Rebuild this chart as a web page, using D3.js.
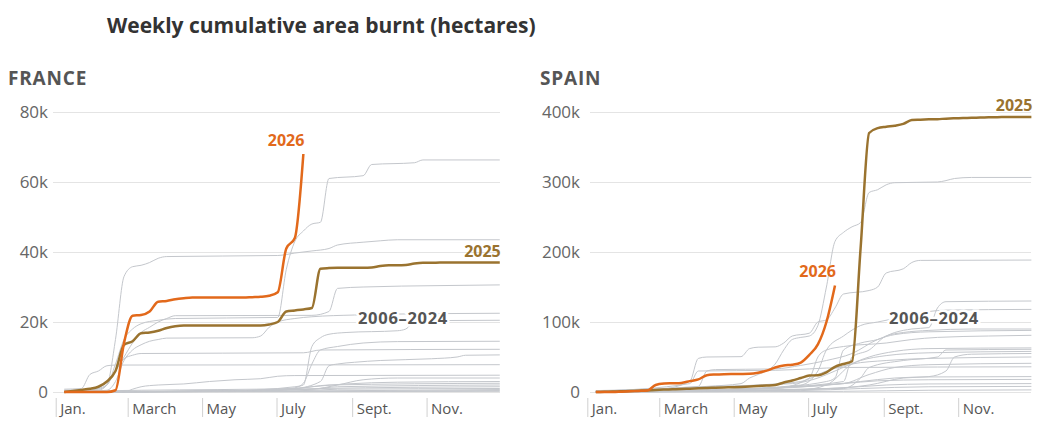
<!DOCTYPE html>
<html>
<head>
<meta charset="utf-8">
<script src="https://cdn.jsdelivr.net/npm/d3@7"></script>
<style>
	body { margin: 0; background: #fff; }
	svg { display: block; font-family: 'Open Sans', sans-serif; }
</style>
</head>
<body>
<div id="app"></div>
<script>
// month ticks shown under each panel
const monthLabels = ['Jan.', 'March', 'May', 'July', 'Sept.', 'Nov.']

const franceTicks = [0, 20000, 40000, 60000, 80000]
const spainTicks = [0, 100000, 200000, 300000, 400000]

// weekly cumulative hectares, week 1..n
const france2026 = [0, 0, 0, 0, 0, 0, 500, 14000, 21800, 22000, 23000, 25800, 26000, 26500, 26800, 27000, 27000, 27000, 27000, 27000, 27000, 27000, 27100, 27200, 27500, 28500, 41000, 44000, 68000]
const france2025 = [0, 300, 600, 900, 1500, 3000, 6000, 13500, 14500, 16800, 17000, 17500, 18300, 18800, 19000, 19000, 19000, 19000, 19000, 19000, 19000, 19000, 19000, 19000, 19300, 20000, 23000, 23300, 23600, 24000, 35200, 35400, 35500, 35500, 35500, 35500, 35600, 36000, 36200, 36200, 36300, 36700, 36900, 36900, 37000, 37000, 37000, 37000, 37000, 37000, 37000, 37000]
const spain2026 = [0, 0, 0, 500, 1000, 1500, 2000, 10000, 12000, 12500, 13000, 15500, 18000, 24000, 25000, 25500, 25700, 25800, 26000, 27500, 30500, 35000, 38000, 39000, 42000, 53000, 68000, 100000, 152000]
const spain2025 = [0, 300, 600, 1000, 1300, 1800, 2300, 3000, 3500, 3800, 4200, 4800, 5300, 5800, 6200, 6600, 6800, 7200, 7800, 8500, 9200, 10000, 13500, 16500, 20000, 23500, 24000, 28000, 36000, 40000, 44000, 205000, 370000, 377000, 379000, 380500, 383000, 388500, 389000, 389500, 389800, 390500, 391000, 391300, 391800, 392000, 392400, 392600, 392800, 393000, 393000, 393000]

// 2006-2024, [week, hectares]
const francePast = [
	[[1, 0], [4, 500], [6, 2000], [7, 8000], [8, 15000], [9, 18000], [10, 19500], [12, 20500], [14, 21000], [26, 21300], [27, 35000], [28, 43000], [29, 46000], [30, 48000], [31, 48500], [32, 61000], [36, 61800], [37, 65000], [42, 65500], [43, 66300], [52, 66300]],
	[[1, 0], [5, 500], [6, 2000], [7, 15000], [8, 33000], [9, 35800], [10, 36200], [11, 37000], [12, 38200], [13, 38700], [26, 39000], [28, 39700], [30, 40300], [32, 41000], [33, 42000], [36, 42800], [38, 43200], [40, 43500], [52, 43500]],
	[[1, 300], [5, 1200], [6, 3000], [7, 6000], [8, 10000], [9, 14000], [10, 17000], [11, 18500], [12, 20000], [13, 21000], [14, 21800], [30, 21900], [32, 23000], [33, 29600], [36, 30000], [45, 30400], [52, 30600]],
	[[1, 0], [6, 500], [7, 3000], [8, 9000], [9, 12000], [10, 13500], [11, 14500], [12, 15000], [13, 15400], [23, 15500], [24, 16000], [25, 18500], [26, 20000], [28, 21000], [30, 21500], [35, 22000], [45, 22400], [52, 22500]],
	[[1, 0], [20, 300], [28, 1500], [29, 2000], [30, 13000], [31, 15500], [32, 16500], [34, 17000], [40, 17500], [41, 18000], [42, 20000], [44, 20400], [52, 20500]],
	[[1, 0], [24, 500], [28, 1200], [29, 2500], [30, 8000], [31, 12000], [33, 13000], [36, 14000], [40, 14400], [52, 14500]],
	[[1, 500], [5, 800], [6, 2000], [7, 6000], [8, 9500], [9, 10500], [10, 11000], [29, 11200], [31, 12000], [52, 12200]],
	[[1, 0], [20, 300], [28, 1000], [31, 3000], [32, 7500], [33, 8000], [35, 8500], [38, 9000], [44, 9500], [47, 10000], [48, 10500], [52, 10600]],
	[[1, 800], [3, 1000], [4, 5000], [5, 6000], [6, 7500], [7, 7700], [52, 7800]],
	[[1, 0], [8, 0], [9, 800], [10, 1500], [12, 2000], [15, 2300], [18, 3000], [21, 3500], [24, 3800], [26, 4500], [28, 4700], [52, 4800]],
	[[1, 0], [20, 300], [30, 800], [33, 2000], [36, 3500], [40, 4000], [52, 4000]],
	[[1, 0], [26, 500], [30, 1500], [34, 2300], [40, 2800], [52, 3000]],
	[[1, 200], [10, 500], [28, 1000], [32, 2000], [52, 2500]],
	[[1, 0], [15, 300], [30, 800], [33, 1500], [52, 2000]],
	[[1, 0], [20, 200], [31, 1000], [52, 1500]],
	[[1, 0], [28, 300], [33, 800], [52, 1000]],
	[[1, 0], [30, 300], [52, 700]],
	[[1, 0], [30, 200], [52, 400]],
	[[1, 0], [52, 200]],
]

const spainPast = [
	[[1, 0], [8, 3000], [14, 8000], [18, 12000], [19, 20000], [20, 25000], [22, 40000], [23, 60000], [24, 75000], [25, 78000], [26, 80000], [27, 95000], [28, 150000], [29, 215000], [30, 228000], [31, 236000], [32, 242000], [33, 285000], [34, 289000], [35, 296000], [36, 299000], [41, 300000], [42, 302000], [43, 305000], [45, 306500], [52, 306500]],
	[[1, 0], [8, 3000], [12, 15000], [13, 48000], [14, 50000], [18, 50500], [19, 62000], [20, 64000], [22, 64500], [23, 70000], [24, 80000], [26, 84000], [27, 100000], [28, 103000], [29, 120000], [30, 140000], [33, 145000], [34, 150000], [35, 170000], [37, 176000], [38, 185000], [39, 188000], [52, 188500]],
	[[1, 0], [10, 2000], [20, 5000], [28, 15000], [29, 20000], [30, 60000], [32, 70000], [34, 75000], [36, 85000], [38, 90000], [40, 92000], [41, 120000], [42, 129000], [52, 130000]],
	[[1, 0], [15, 3000], [25, 10000], [27, 30000], [28, 60000], [30, 80000], [32, 95000], [34, 100000], [36, 105000], [40, 115000], [42, 117000], [52, 118000]],
	[[1, 0], [20, 5000], [30, 15000], [31, 50000], [33, 60000], [35, 80000], [37, 85000], [40, 88000], [45, 90000], [52, 90000]],
	[[1, 2000], [13, 8000], [14, 30000], [15, 32000], [22, 33000], [25, 38000], [28, 45000], [31, 55000], [34, 75000], [36, 82000], [40, 86000], [52, 88000]],
	[[1, 0], [22, 5000], [26, 20000], [27, 50000], [28, 60000], [30, 65000], [35, 70000], [38, 75000], [41, 78000], [47, 80000], [52, 81000]],
	[[1, 0], [25, 3000], [28, 10000], [31, 40000], [33, 50000], [36, 58000], [40, 62000], [52, 63000]],
	[[1, 0], [30, 5000], [32, 20000], [33, 35000], [37, 45000], [41, 50000], [42, 60000], [52, 61000]],
	[[1, 1000], [15, 8000], [24, 12000], [27, 20000], [29, 30000], [32, 45000], [35, 52000], [40, 56000], [52, 58000]],
	[[1, 0], [28, 5000], [33, 10000], [37, 20000], [40, 22000], [42, 30000], [43, 50000], [45, 54000], [52, 55000]],
	[[1, 0], [10, 4000], [20, 10000], [25, 15000], [28, 30000], [31, 40000], [35, 45000], [40, 48000], [52, 50000]],
	[[1, 0], [20, 5000], [30, 12000], [33, 25000], [36, 35000], [40, 39000], [52, 41000]],
	[[1, 1000], [12, 12000], [13, 30000], [22, 31000], [26, 33000], [30, 35000], [52, 36000]],
	[[1, 0], [20, 4000], [28, 10000], [32, 15000], [36, 20000], [40, 21500], [52, 22000]],
	[[1, 0], [15, 3000], [25, 8000], [30, 12000], [34, 16000], [40, 17500], [52, 18000]],
	[[1, 0], [20, 2000], [30, 6000], [35, 10000], [40, 11500], [52, 12000]],
	[[1, 0], [25, 2000], [32, 5000], [40, 7500], [52, 8000]],
	[[1, 0], [30, 1000], [40, 2500], [52, 3000]],
]

const width = 1041
const height = 425
const orange = '#e2691b'
const brown = '#9a732f'

const yearStart = new Date(2025, 0, 1)
const yearEnd = new Date(2026, 0, 1)
const weekDate = (w) => d3.timeDay.offset(yearStart, 7 * w)
const monthTicks = d3.timeMonth.every(2).range(yearStart, yearEnd)

const svg = d3
	.select('#app')
	.append('svg')
	.attr('width', width)
	.attr('height', height)

// chart title
svg
	.append('text')
	.attr('x', 107)
	.attr('y', 33)
	.attr('font-size', '21px')
	.attr('font-weight', 700)
	.attr('fill', '#333')
	.text('Weekly cumulative area burnt (hectares)')

function drawPanel(p) {
	const g = svg.append('g')

	const x = d3.scaleTime().domain([yearStart, yearEnd]).range([p.x0, p.x1])
	const y = d3.scaleLinear().domain([0, p.ticks[p.ticks.length - 1]]).range([392, 112])

	// country name
	g.append('text')
		.attr('x', p.nameX)
		.attr('y', 85)
		.attr('font-size', '19px')
		.attr('font-weight', 700)
		.attr('letter-spacing', '0.8px')
		.attr('fill', '#555')
		.text(p.name)

	// y axis with gridlines
	const yAxis = d3
		.axisLeft(y)
		.tickValues(p.ticks)
		.tickSize(-(p.gridRight - p.gridLeft))
		.tickPadding(p.pad)
		.tickFormat((d) => (d === 0 ? '0' : d / 1000 + 'k'))
	const ya = g.append('g').attr('transform', `translate(${p.gridLeft},0)`).call(yAxis)
	ya.select('.domain').remove()
	ya.selectAll('line').attr('stroke', '#e4e4e4')
	ya.selectAll('text')
		.attr('font-size', '17px')
		.attr('font-family', 'Open Sans, sans-serif')
		.attr('fill', '#666')

	// x axis, ticks hanging below the baseline
	const xAxis = d3
		.axisBottom(x)
		.tickValues(monthTicks)
		.tickSize(19)
		.tickFormat((d, i) => monthLabels[i])
	const xa = g.append('g').attr('transform', 'translate(0,398)').call(xAxis)
	xa.select('.domain').remove()
	xa.selectAll('line').attr('stroke', '#d0d0d0')
	xa.selectAll('text')
		.attr('x', 4)
		.attr('y', 16)
		.attr('dy', 0)
		.attr('text-anchor', 'start')
		.attr('font-size', '15px')
		.attr('font-family', 'Open Sans, sans-serif')
		.attr('fill', '#555')

	const line = d3
		.line()
		.x((d) => x(weekDate(d[0])))
		.y((d) => y(d[1]))
		.curve(d3.curveMonotoneX)

	const weekly = (arr) => arr.map((v, i) => [i + 1, v])

	g.append('g')
		.selectAll('path')
		.data(p.past)
		.join('path')
		.attr('d', line)
		.attr('fill', 'none')
		.attr('stroke', '#c4c7cc')
		.attr('stroke-width', 1)

	const last = weekly(p.last)
	const cur = weekly(p.current)

	g.append('path')
		.datum(last)
		.attr('d', line)
		.attr('fill', 'none')
		.attr('stroke', brown)
		.attr('stroke-width', 2.5)

	g.append('path')
		.datum(cur)
		.attr('d', line)
		.attr('fill', 'none')
		.attr('stroke', orange)
		.attr('stroke-width', 2.5)

	// labels
	const lastEnd = last[last.length - 1]
	const curEnd = cur[cur.length - 1]

	g.append('text')
		.attr('x', x(weekDate(lastEnd[0])) + 1)
		.attr('y', y(lastEnd[1]) - p.lastOff)
		.attr('dy', '0.35em')
		.attr('text-anchor', 'end')
		.attr('font-size', '16px')
		.attr('font-weight', 700)
		.attr('fill', brown)
		.text('2025')

	g.append('text')
		.attr('x', x(weekDate(curEnd[0])) + 1)
		.attr('y', y(curEnd[1]) - 14)
		.attr('dy', '0.35em')
		.attr('text-anchor', 'end')
		.attr('font-size', '16px')
		.attr('font-weight', 700)
		.attr('fill', orange)
		.text('2026')

	g.append('text')
		.attr('x', p.pastX)
		.attr('y', 318)
		.attr('dy', '0.35em')
		.attr('text-anchor', 'middle')
		.attr('font-size', '16.5px')
		.attr('font-weight', 700)
		.attr('letter-spacing', '0.7px')
		.attr('fill', '#555')
		.attr('stroke', '#fff')
		.attr('stroke-width', 5)
		.attr('paint-order', 'stroke')
		.text('2006–2024')
}

drawPanel({
	name: 'FRANCE',
	nameX: 8,
	x0: 55.7,
	x1: 501,
	gridLeft: 53,
	gridRight: 500,
	pad: 5,
	ticks: franceTicks,
	past: francePast,
	last: france2025,
	current: france2026,
	lastOff: 11,
	pastX: 403,
})

drawPanel({
	name: 'SPAIN',
	nameX: 540,
	x0: 587.3,
	x1: 1032.6,
	gridLeft: 590,
	gridRight: 1031,
	pad: 10,
	ticks: spainTicks,
	past: spainPast,
	last: spain2025,
	current: spain2026,
	lastOff: 12,
	pastX: 934,
})
</script>
</body>
</html>
